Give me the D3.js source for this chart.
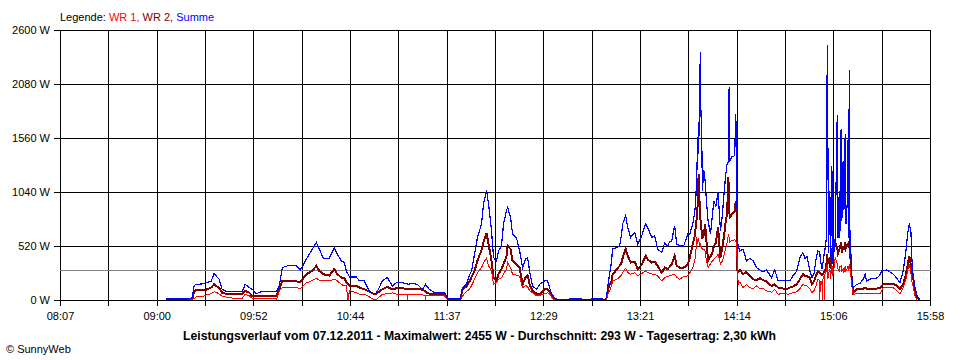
<!DOCTYPE html>
<html><head><meta charset="utf-8">
<script src="https://cdn.jsdelivr.net/npm/d3@7"></script>
<style>
body{margin:0;background:#fff}
svg{display:block}
text{font-family:"Liberation Sans",Arial,sans-serif}
</style>
</head><body>
<svg id="c" width="960" height="360"></svg>
<script>
// time of each sample, minutes since midnight
const timeMin = [
545.1,552.1,557.0,559.2,560.3,561.4,564.6,566.8,569.5,571.1,
572.7,573.8,575.4,578.2,581.9,586.3,587.9,590.1,591.7,593.9,
596.6,600.9,604.5,604.7,606.3,608.0,611.7,615.5,617.7,621.0,
622.6,624.2,626.4,628.0,630.2,633.4,636.1,637.8,639.9,641.5,
642.6,643.5,644.3,645.3,648.0,649.7,652.4,655.1,657.3,658.9,
660.5,662.1,664.8,665.9,667.6,669.7,673.0,675.5,675.7,675.9,
678.4,681.1,683.8,685.3,685.4,685.6,687.6,690.3,695.7,697.4,
704.4,705.5,707.6,709.3,710.4,712.0,713.6,715.8,716.9,718.5,
719.6,721.2,722.3,723.9,725.0,726.6,727.7,729.3,729.9,731.5,
732.6,734.7,736.4,738.0,739.6,740.7,741.8,743.4,745.6,747.2,
749.9,751.5,752.6,753.7,755.3,756.9,762.9,763.5,770.0,770.5,
774.8,775.4,781.3,782.4,783.5,784.0,785.1,786.2,786.7,788.9,
790.5,791.6,792.2,793.8,794.9,796.5,798.7,800.3,802.5,804.6,
805.7,807.9,809.5,811.1,813.3,814.9,816.5,817.6,818.7,820.3,
821.4,823.0,825.2,827.4,828.5,830.1,831.2,831.7,832.3,832.8,
833.3,833.7,833.9,834.2,834.4,835.0,835.3,836.1,836.8,837.5,
838.4,839.7,840.8,841.5,842.6,843.8,845.1,846.2,846.9,848.0,
848.7,849.4,849.8,850.1,851.1,852.8,853.4,853.8,854.3,854.7,
855.6,857.3,859.2,861.0,862.8,864.6,866.4,868.2,870.0,872.7,
874.5,876.3,879.0,881.7,882.6,884.3,886.4,888.1,889.7,890.8,
891.9,893.5,894.6,895.7,896.7,897.8,898.7,898.9,899.1,900.0,
900.3,900.5,901.3,901.4,901.6,902.4,902.9,903.2,903.6,904.3,
904.7,905.4,905.8,906.5,907.2,908.3,908.7,909.4,909.7,910.4,
910.8,911.5,911.9,912.6,913.0,913.7,914.1,914.5,914.8,915.2,
915.7,916.2,916.9,918.8,920.6,922.4,923.4,924.2,926.0,927.8,
929.6,931.4,932.3,933.2,935.0,936.8,938.6,940.5,942.2,944.0,
945.5,946.4,947.3,948.2,948.7,949.5,950.4,951.3,952.2,953.1
];
// WR 1 (W)
const wr1 = [
0,0,0,3,16,29,29,48,60,80,
70,55,39,25,16,16,55,40,16,16,
16,16,16,0,87,119,119,119,110,167,
175,190,210,190,184,184,200,184,150,135,
135,0,87,87,70,55,55,30,7,7,
30,55,60,60,70,55,55,55,0,55,
55,55,50,45,0,45,39,39,39,10,
10,39,80,103,140,200,260,312,360,403,
330,280,152,170,200,216,250,300,360,310,
248,240,230,119,140,130,90,70,39,45,
60,70,60,30,0,0,0,0,0,0,
0,0,0,0,10,50,87,140,184,200,
220,240,264,306,264,248,264,232,255,280,
264,250,245,232,184,215,230,232,240,248,
220,200,225,232,260,312,380,441,602,540,
600,520,560,540,520,500,490,490,470,377,
312,350,377,390,410,441,345,380,420,506,
550,635,600,560,570,580,570,540,300,152,
170,119,150,119,110,135,110,110,87,75,
100,55,65,55,60,70,80,110,152,140,
135,110,70,90,130,200,190,0,180,180,
0,200,240,0,250,280,345,200,250,300,
200,350,230,300,409,350,300,280,320,330,
280,300,260,330,280,300,330,280,350,300,
230,150,55,60,60,60,60,60,60,60,
60,60,90,119,119,119,119,90,60,119,
200,280,345,250,180,119,40,0,0,0
];
// WR 2 (W)
const wr2 = [
0,3,5,10,87,94,94,100,120,152,
130,119,70,55,55,55,87,70,39,39,
39,39,39,39,103,184,180,180,170,248,
265,280,329,280,248,235,297,248,216,216,
170,155,140,135,135,120,103,80,61,61,
80,103,126,115,103,113,113,105,103,103,
103,103,100,85,80,75,61,61,61,12,
12,103,130,180,220,280,380,480,560,645,
538,377,220,184,250,300,345,420,522,490,
377,340,312,152,216,240,152,87,60,55,
103,103,80,55,15,0,0,8,8,0,
0,5,5,0,20,80,150,184,240,297,
329,360,409,490,425,360,370,297,340,425,
390,360,370,329,264,312,297,320,345,425,
329,312,312,340,409,538,620,699,800,925,
1215,900,950,800,750,650,600,620,732,570,
377,420,460,520,550,699,409,520,600,764,
830,1182,900,795,820,850,957,900,280,270,
290,248,270,230,200,190,210,190,180,135,
150,119,110,110,119,130,150,200,248,230,
230,215,152,180,230,274,265,260,255,240,
245,250,270,275,280,330,441,350,380,400,
300,500,350,550,554,500,450,480,500,560,
450,520,480,560,500,530,540,500,560,480,
330,180,70,103,110,110,115,110,110,110,
110,115,135,152,155,155,155,140,103,152,
250,330,425,330,250,200,80,40,10,0
];
// Summe (W)
const summe = [
10,10,10,20,140,150,155,167,180,258,
220,200,103,80,80,80,152,119,103,61,
80,80,80,80,135,312,335,335,287,393,
441,490,554,490,403,403,500,441,377,360,
280,250,222,222,222,184,184,87,55,70,
120,184,216,184,135,167,167,155,150,150,
160,150,103,140,150,140,103,70,70,15,
15,119,152,240,280,441,602,732,925,1054,
925,667,409,377,474,522,732,860,892,795,
635,600,474,312,393,410,280,135,103,152,
184,184,119,60,22,0,0,15,15,0,
0,10,10,0,30,119,248,377,490,506,
520,635,732,812,699,602,650,538,619,732,
700,602,619,490,457,550,520,560,570,715,
540,520,520,635,635,732,850,957,1215,1568,
1408,1900,2068,2390,1900,1537,1054,1247,1150,957,
764,635,828,957,900,1037,667,828,1000,1215,
1312,1330,2052,1330,1376,1390,1795,1376,570,520,
474,490,377,400,377,312,290,270,290,216,
290,184,190,184,184,232,280,409,457,400,
420,280,216,250,380,474,460,450,400,300,
320,350,450,474,474,600,2455,1617,457,1054,
400,1295,350,457,600,1778,600,1054,600,1650,
760,1343,870,1601,730,930,1537,600,2213,500,
441,216,119,150,160,200,248,180,200,210,
210,240,280,280,290,270,250,210,167,280,
474,635,738,650,400,200,119,55,7,0
];

const yTicks = [0, 520, 1040, 1560, 2080, 2600];
const xTickLabels = ["08:07","","09:00","","09:52","","10:44","","11:37","","12:29","","13:21","","14:14","","15:06","","15:58"];
const timeStart = 487.67, timeEnd = 958.5;
const average = 293;
const legendParts = [["Legende: ","#000000"],["WR 1, ","#ff0000"],["WR 2, ","#800000"],["Summe","#0000ff"]];
const titleText = "Leistungsverlauf vom 07.12.2011 - Maximalwert: 2455 W - Durchschnitt: 293 W - Tagesertrag: 2,30 kWh";
const footerText = "\u00A9 SunnyWeb";

const svg = d3.select("#c");
const x = d3.scaleLinear().domain([timeStart, timeEnd]).range([60, 930]);
const y = d3.scaleLinear().domain([0, 2600]).range([300, 30]);
const xTickValues = d3.range(xTickLabels.length).map(i => timeStart + i * (timeEnd - timeStart) / (xTickLabels.length - 1));
const px = v => Math.round(v) + 0.5;

// grid
const grid = svg.append("g").attr("shape-rendering", "crispEdges").attr("stroke", "#000").attr("stroke-width", 1);
grid.selectAll("line.v").data(xTickValues).join("line")
  .attr("x1", d => px(x(d))).attr("x2", d => px(x(d)))
  .attr("y1", 30).attr("y2", 306);
grid.selectAll("line.h").data(yTicks).join("line")
  .attr("x1", 54).attr("x2", 931)
  .attr("y1", d => px(y(d))).attr("y2", d => px(y(d)));

// average line
svg.append("line").attr("shape-rendering", "crispEdges")
  .attr("x1", 60).attr("x2", 931)
  .attr("y1", px(y(average))).attr("y2", px(y(average)))
  .attr("stroke", "#808080").attr("stroke-width", 1);

// axes (labels)
const yAxis = svg.append("g").attr("transform", "translate(60,0)")
  .call(d3.axisLeft(y).tickValues(yTicks).tickSize(6).tickPadding(4).tickFormat(d => d + " W"));
yAxis.select(".domain").remove();
yAxis.selectAll("line").attr("shape-rendering", "crispEdges");
yAxis.attr("font-family", "Liberation Sans, Arial, sans-serif").attr("font-size", 11);
yAxis.selectAll("text").attr("fill", "#000");

const xAxis = svg.append("g").attr("transform", "translate(0,300)")
  .call(d3.axisBottom(x).tickValues(xTickValues).tickSize(6).tickPadding(6).tickFormat((d, i) => xTickLabels[i]));
xAxis.select(".domain").remove();
xAxis.selectAll("line").attr("shape-rendering", "crispEdges");
xAxis.attr("font-family", "Liberation Sans, Arial, sans-serif").attr("font-size", 11);
xAxis.selectAll("text").attr("fill", "#000");

// data lines
const idx = d3.range(timeMin.length);
const lineFor = vals => d3.line().x(i => x(timeMin[i])).y(i => y(vals[i]))(idx);
const series = [
  {vals: wr2, color: "#800000", w: 2},
  {vals: wr1, color: "#ff0000", w: 1},
  {vals: summe, color: "#0000ff", w: 1.2}
];
svg.append("g").selectAll("path").data(series).join("path")
  .attr("d", s => lineFor(s.vals))
  .attr("fill", "none").attr("stroke", s => s.color).attr("stroke-width", s => s.w)
  .attr("stroke-linejoin", "miter").attr("shape-rendering", "crispEdges");

// x axis baseline on top
svg.append("line").attr("shape-rendering", "crispEdges")
  .attr("x1", 54).attr("x2", 931).attr("y1", px(y(0))).attr("y2", px(y(0)))
  .attr("stroke", "#000").attr("stroke-width", 1);

// legend
const leg = svg.append("text").attr("x", 60).attr("y", 21).attr("font-size", 11);
leg.selectAll("tspan").data(legendParts).join("tspan")
  .attr("fill", d => d[1]).attr("xml:space", "preserve").text(d => d[0]);
leg.attr("style", "white-space:pre");

// title
svg.append("text").attr("x", 183).attr("y", 339.5)
  .attr("font-size", 12).attr("font-weight", "bold")
  .attr("textLength", 593).attr("lengthAdjust", "spacingAndGlyphs")
  .text(titleText);

// footer
svg.append("text").attr("x", 6).attr("y", 353).attr("font-size", 11).text(footerText);
</script>
</body></html>
